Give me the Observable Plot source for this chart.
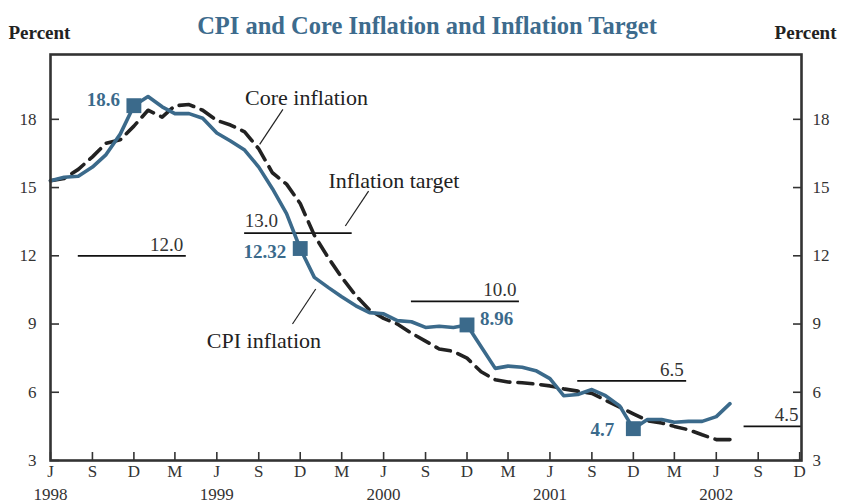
<!DOCTYPE html>
<html><head><meta charset="utf-8">
<script src="https://cdn.jsdelivr.net/npm/d3@7"></script>
<script src="https://cdn.jsdelivr.net/npm/@observablehq/plot@0.6"></script>
<style>body{margin:0;background:#fff}</style>
</head><body><div id="chart"></div>
<script>
// ---- data ----
const months = [
  "1998-06","1998-07","1998-08","1998-09","1998-10","1998-11","1998-12",
  "1999-01","1999-02","1999-03","1999-04","1999-05","1999-06","1999-07","1999-08","1999-09","1999-10","1999-11","1999-12",
  "2000-01","2000-02","2000-03","2000-04","2000-05","2000-06","2000-07","2000-08","2000-09","2000-10","2000-11","2000-12",
  "2001-01","2001-02","2001-03","2001-04","2001-05","2001-06","2001-07","2001-08","2001-09","2001-10","2001-11","2001-12",
  "2002-01","2002-02","2002-03","2002-04","2002-05","2002-06","2002-07"
];
const cpi = [
  15.3,15.45,15.5,15.9,16.45,17.35,18.6,
  19.0,18.55,18.25,18.25,18.05,17.4,17.05,16.65,15.9,14.95,13.85,12.32,
  11.05,10.6,10.2,9.8,9.5,9.45,9.15,9.1,8.85,8.9,8.85,8.96,
  8.0,7.05,7.15,7.1,6.95,6.6,5.85,5.9,6.12,5.85,5.4,4.4,
  4.8,4.8,4.68,4.72,4.72,4.93,5.5
];
const core = [
  15.3,15.4,15.8,16.35,16.95,17.1,17.7,
  18.4,18.1,18.6,18.65,18.4,17.95,17.75,17.45,16.7,15.65,15.15,14.3,
  12.9,11.9,11.05,10.25,9.62,9.25,9.0,8.6,8.25,7.9,7.8,7.5,
  6.9,6.55,6.45,6.42,6.36,6.28,6.15,6.05,5.95,5.65,5.35,5.05,
  4.75,4.65,4.5,4.35,4.13,3.92,3.92
];
const targetValues = [12.0, 13.0, 10.0, 6.5, 4.5];
const targetLabels = ["12.0", "13.0", "10.0", "6.5", "4.5"];
const targetStart = ["1998-08-01", "1999-08-01", "2000-08-01", "2001-08-01", "2002-08-01"];
const targetEnd = ["1999-03-26", "2000-03-24", "2001-03-26", "2002-03-28", "2002-12-05"];
const targetLabelSide = ["end", "start", "end", "end", "end"];
const highlightMonths = ["1998-12", "1999-12", "2000-12", "2001-12"];
const highlightLabels = ["18.6", "12.32", "8.96", "4.7"];
const yTicks = [3, 6, 9, 12, 15, 18];

const titleText = "CPI and Core Inflation and Inflation Target";
const unitText = "Percent";

// ---- derived ----
const parseM = d3.utcParse("%Y-%m");
const parseD = d3.utcParse("%Y-%m-%d");
const series = months.map((m, i) => ({date: parseM(m), cpi: cpi[i], core: core[i]}));
const targets = targetValues.map((v, i) => ({
  value: v, label: targetLabels[i], start: parseD(targetStart[i]), end: parseD(targetEnd[i]), side: targetLabelSide[i]
}));
const highlights = highlightMonths.map((m, i) => {
  const idx = months.indexOf(m);
  return {date: parseM(m), value: cpi[idx], label: highlightLabels[i], i};
});
const xStart = parseD("1998-06-01"), xEnd = parseD("2002-12-05");
const xTicks = d3.utcMonth.range(xStart, xEnd, 3);
const yearTicks = xTicks.filter(d => d.getUTCMonth() === 5);
const monthLetter = d => d3.utcFormat("%b")(d)[0];

// annotation labels & leader lines
const annotations = [
  {text: "Core inflation", date: parseD("1999-08-02"), value: 18.92},
  {text: "Inflation target", date: parseD("2000-02-01"), value: 15.28},
  {text: "CPI inflation", date: parseD("1999-05-10"), value: 8.26}
];
const leaders = [
  {x1: parseD("1999-10-24"), y1: 18.44, x2: parseD("1999-09-03"), y2: 16.9},
  {x1: parseD("2000-04-29"), y1: 14.84, x2: parseD("2000-03-09"), y2: 13.31},
  {x1: parseD("2000-01-04"), y1: 10.54, x2: parseD("1999-11-14"), y2: 9.0}
];
const hlOffsets = [{dx: -14, dy: -6, a: "end"}, {dx: -14, dy: 3, a: "end"}, {dx: 13, dy: -6, a: "start"}, {dx: -19, dy: 1, a: "end"}];

const blue = "#3b6a8b";
const serif = "'Liberation Serif', 'DejaVu Serif', serif";

const chart = Plot.plot({
  width: 841, height: 504,
  marginLeft: 50, marginRight: 40, marginTop: 54, marginBottom: 44,
  style: {fontFamily: serif, fontSize: "17px", color: "#333", background: "#fff", overflow: "visible"},
  x: {type: "utc", domain: [xStart, xEnd]},
  y: {domain: [3, 20.85]},
  marks: [
    Plot.axisY({anchor: "left", ticks: yTicks, tickSize: -9, tickPadding: 23, label: null, strokeWidth: 1.6}),
    Plot.axisY({anchor: "right", ticks: yTicks, tickSize: -9, tickPadding: 20, label: null, strokeWidth: 1.6}),
    Plot.axisX({ticks: xTicks, tickSize: -8, tickPadding: 12, tickFormat: monthLetter, label: null, strokeWidth: 1.6}),
    Plot.axisX({ticks: yearTicks, tickSize: 0, tickPadding: 27, tickFormat: "%Y", label: null}),
    Plot.ruleY(targets, {x1: "start", x2: "end", y: "value", stroke: "#111", strokeWidth: 1.8}),
    Plot.text(targets.filter(d => d.side === "end"), {x: "end", y: "value", text: "label", textAnchor: "end", lineAnchor: "bottom", dx: -3, dy: -5, fontSize: 19, fill: "#333"}),
    Plot.text(targets.filter(d => d.side === "start"), {x: "start", y: "value", text: "label", textAnchor: "start", lineAnchor: "bottom", dx: 0, dy: -6, fontSize: 19, fill: "#333"}),
    Plot.line(series, {x: "date", y: "core", stroke: "#222", strokeWidth: 3.6, strokeDasharray: "15,8"}),
    Plot.line(series, {x: "date", y: "cpi", stroke: blue, strokeWidth: 3.6, strokeLinejoin: "round"}),
    Plot.dot(highlights, {x: "date", y: "value", symbol: "square", r: 8.4, fill: blue}),
    ...hlOffsets.map((o, k) => Plot.text(highlights.filter(d => d.i === k), {x: "date", y: "value", text: "label", textAnchor: o.a, dx: o.dx, dy: o.dy, fontWeight: "bold", fontSize: 19, fill: blue})),
    Plot.text(annotations, {x: "date", y: "value", text: "text", textAnchor: "start", fontSize: 22, fill: "#222"}),
    Plot.link(leaders, {x1: "x1", y1: "y1", x2: "x2", y2: "y2", stroke: "#222", strokeWidth: 1.2}),
    Plot.frame({stroke: "#333", strokeWidth: 2.6}),
    Plot.text([titleText], {frameAnchor: "top", dx: 1, dy: -38, fontSize: 24.5, fontWeight: "bold", fill: "#3d6b8d"}),
    Plot.text([unitText], {frameAnchor: "top-left", textAnchor: "start", dx: -42, dy: -29, fontSize: 19, fontWeight: "bold", fill: "#222"}),
    Plot.text([unitText], {frameAnchor: "top-right", textAnchor: "end", dx: 35, dy: -29, fontSize: 19, fontWeight: "bold", fill: "#222"})
  ]
});
document.getElementById("chart").appendChild(chart);
</script>
</body></html>
